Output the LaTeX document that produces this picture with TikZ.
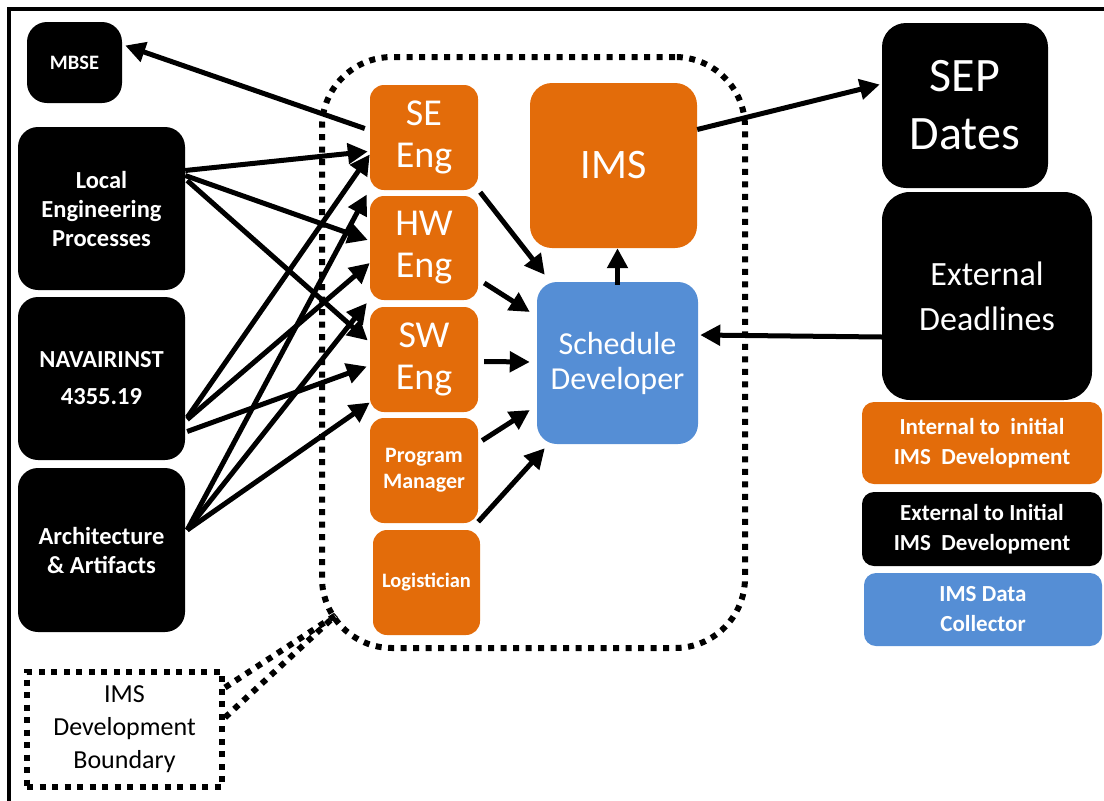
\documentclass[tikz,border=0pt]{standalone}
\usepackage{fontspec}
\setmainfont{Carlito}
\usepackage{tikz}
\usetikzlibrary{arrows.meta}
\definecolor{imsorange}{RGB}{227,108,10}
\definecolor{imsblue}{RGB}{85,142,213}

\begin{document}
\begin{tikzpicture}[x=1pt,y=-1pt,
  blackbox/.style={fill=black,text=white,rounded corners=20pt,align=center,inner sep=0pt},
  orangebox/.style={fill=imsorange,text=white,rounded corners=14pt,align=center,inner sep=0pt},
  bluebox/.style={fill=imsblue,text=white,rounded corners=20pt,align=center,inner sep=0pt},
  arr/.style={line width=5pt,-{Triangle[length=20pt,width=20pt]}},
  dots/.style={line width=6pt,dash pattern=on 6pt off 6.5pt}]

\useasboundingbox (0,0) rectangle (1104,801);

% Draw frame
\draw[line width=4pt] (1104,9) -- (9,9) -- (9,801);

% Draw development boundary
\node[draw,dots,rounded corners=70pt,minimum width=423pt,minimum height=591pt] (imsbnd) at (533.5,352.5) {};
\node[draw,dots,minimum width=195pt,minimum height=115pt,align=center,
  font=\fontsize{26}{33}\selectfont] (bnd) at (124.5,729.5) {IMS\\Development\\Boundary};
\coordinate (bndtip) at (336,615);
\draw[dots] ([shift={(0,-42)}]bnd.east) -- (bndtip);
\draw[dots] ([shift={(0,-12)}]bnd.east) -- (bndtip);

% External inputs
\node[blackbox,minimum width=95pt,minimum height=81pt,font=\fontsize{20.5}{24}\selectfont\bfseries] (mbse) at (74.5,62.5) {MBSE};
\node[blackbox,minimum width=167pt,minimum height=163pt,font=\fontsize{24.5}{29}\selectfont\bfseries] (local) at (101.5,208.5) {Local\\Engineering\\Processes};
\node[blackbox,minimum width=167pt,minimum height=163pt,font=\fontsize{24.5}{29}\selectfont\bfseries] (navair) at (101.5,378.5) {NAVAIRINST\\[8pt]4355.19};
\node[blackbox,minimum width=167pt,minimum height=164pt,font=\fontsize{24.5}{29}\selectfont\bfseries] (arch) at (101.5,550) {Architecture\\\& Artifacts};

% Roles inside the boundary
\node[orangebox,minimum width=108pt,minimum height=105pt,font=\fontsize{38}{42}\selectfont] (se) at (424,137.5) {SE\\Eng};
\node[orangebox,minimum width=108pt,minimum height=104pt,font=\fontsize{38}{42}\selectfont] (hw) at (424,248) {HW\\Eng};
\node[orangebox,minimum width=108pt,minimum height=105pt,font=\fontsize{38}{42}\selectfont] (sw) at (424,359.5) {SW\\Eng};
\node[orangebox,minimum width=108pt,minimum height=105pt,font=\fontsize{22}{26}\selectfont\bfseries] (pm) at (424,470.5) {Program\\Manager};
\node[orangebox,minimum width=107pt,minimum height=105pt,font=\fontsize{20.5}{24}\selectfont\bfseries] (logi) at (426.5,582.5) {Logistician};
\node[orangebox,rounded corners=22pt,minimum width=167pt,minimum height=165pt,font=\fontsize{42}{48}\selectfont] (ims) at (613.5,165.5) {IMS};
\node[bluebox,minimum width=161pt,minimum height=162pt,font=\fontsize{32}{35}\selectfont] (sched) at (617.5,363) {Schedule\\Developer};

% Outputs and deadlines
\node[blackbox,rounded corners=24pt,minimum width=166pt,minimum height=165pt,font=\fontsize{48}{58}\selectfont] (sep) at (965,105.5) {SEP\\Dates};
\node[blackbox,rounded corners=28pt,minimum width=210pt,minimum height=208pt,font=\fontsize{34}{45}\selectfont] (ext) at (987,296) {External\\Deadlines};

% Legend
\node[orangebox,rounded corners=12pt,minimum width=240pt,minimum height=82pt,font=\fontsize{23}{30}\selectfont\bfseries] (legint) at (982,443) {Internal to\ \ initial\\IMS\ \ Development};
\node[blackbox,rounded corners=12pt,minimum width=240pt,minimum height=74pt,font=\fontsize{23}{30}\selectfont\bfseries] (legext) at (982,529) {External to Initial\\IMS\ \ Development};
\node[bluebox,rounded corners=12pt,minimum width=238pt,minimum height=73pt,font=\fontsize{23}{30}\selectfont\bfseries] (legdata) at (983,609.5) {IMS Data\\Collector};

% Draw arrows into the roles
\draw[arr] ([shift={(-5,-9)}]se.west) -- ([shift={(3,-17)}]mbse.east);
\draw[arr] ([shift={(0,-38)}]local.east) -- ([shift={(-2,14)}]se.west);
\draw[arr] ([shift={(0,-33)}]local.east) -- ([shift={(-2,-8)}]hw.west);
\draw[arr] ([shift={(2,-28)}]local.east) -- ([shift={(-2,-19)}]sw.west);
\draw[arr] ([shift={(2,39)}]navair.east) -- ([shift={(0,17)}]se.west);
\draw[arr] ([shift={(2,41)}]navair.east) -- ([shift={(0,15)}]hw.west);
\draw[arr] ([shift={(2,53)}]navair.east) -- ([shift={(-3,7)}]sw.west);
\draw[arr] ([shift={(2,-20)}]arch.east) -- ([shift={(-3,57)}]se.west);
\draw[arr] ([shift={(2,-20)}]arch.east) -- ([shift={(-3,55)}]hw.west);
\draw[arr] ([shift={(2,-20)}]arch.east) -- ([shift={(0,43)}]sw.west);

% Draw arrows to the schedule developer
\draw[arr] ([shift={(2,2)}]se.south east) -- ([shift={(8,-7)}]sched.north west);
\draw[arr] ([shift={(6,35)}]hw.east) -- ([shift={(-7,-51)}]sched.west);
\draw[arr] ([shift={(6,2)}]sw.east) -- ([shift={(-7,-1)}]sched.west);
\draw[arr] ([shift={(4,-30)}]pm.east) -- ([shift={(-7,47)}]sched.west);
\draw[arr] ([shift={(-2,-8)}]logi.north east) -- ([shift={(8,4)}]sched.south west);
\draw[arr] ([shift={(0,3)}]sched.north) -- (sched.north |- ims.south);
\draw[arr] ([shift={(0,-36)}]ims.east) -- ([shift={(-2,-21)}]sep.west);
\draw[arr] ([shift={(0,41)}]ext.west) -- ([shift={(2,-28)}]sched.east);

\end{tikzpicture}
\end{document}
